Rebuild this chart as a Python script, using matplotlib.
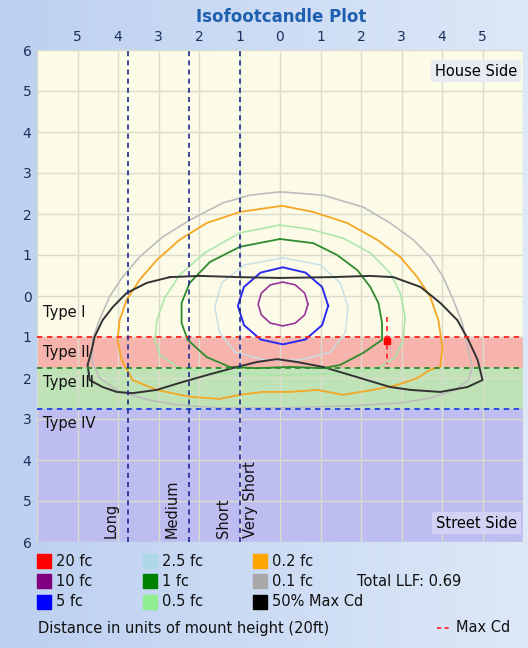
import numpy as np
import matplotlib
matplotlib.use("Agg")
import matplotlib.pyplot as plt
from matplotlib.patches import Rectangle

# distances in mount heights; y > 0 is street side, y < 0 is house side
x_ticks = [-5, -4, -3, -2, -1, 0, 1, 2, 3, 4, 5]
y_ticks = [-6, -5, -4, -3, -2, -1, 0, 1, 2, 3, 4, 5, 6]

# IES lateral type boundaries and longitudinal range boundaries
type_bounds = [1.0, 1.75, 2.75]
type_names = ["Type I", "Type II", "Type III", "Type IV"]
type_label_y = [0.41, 1.39, 2.12, 3.12]
range_bounds = [-1.0, -2.25, -3.75]
range_names = ["Very Short", "Short", "Medium", "Long"]
range_label_x = [-0.74, -1.39, -2.67, -4.16]

# isofootcandle contours (x, y)
gray_01 = [(0, -2.54), (1.06, -2.46), (2.05, -2.17), (2.72, -1.78), (3.29, -1.37), (3.71, -0.95),
           (4.03, -0.46), (4.28, 0.10), (4.50, 0.66), (4.63, 1.24), (4.75, 1.73), (4.65, 2.05),
           (4.33, 2.29), (3.71, 2.49), (2.97, 2.61), (1.73, 2.68), (0, 2.73), (-1.49, 2.73),
           (-2.48, 2.66), (-3.22, 2.54), (-3.96, 2.34), (-4.46, 2.0), (-4.65, 1.56), (-4.63, 1.07),
           (-4.46, 0.59), (-4.21, 0.02), (-3.89, -0.46), (-3.47, -0.95), (-2.90, -1.44),
           (-2.23, -1.85), (-1.41, -2.27), (-0.74, -2.46), (0, -2.54)]
orange_02 = [(0.05, -2.20), (0.82, -2.05), (1.66, -1.78), (2.40, -1.37), (2.97, -0.95), (3.39, -0.46),
             (3.71, 0.02), (3.91, 0.59), (4.01, 1.24), (3.96, 1.73), (3.71, 1.80), (3.39, 2.0),
             (2.90, 2.17), (2.30, 2.29), (1.56, 2.41), (0.92, 2.29), (0.25, 2.34), (-0.42, 2.34),
             (-0.99, 2.41), (-1.49, 2.51), (-2.23, 2.46), (-3.04, 2.29), (-3.64, 2.05), (-3.91, 1.56),
             (-4.01, 1.07), (-3.96, 0.59), (-3.79, 0.10), (-3.47, -0.39), (-3.04, -0.88),
             (-2.48, -1.37), (-1.81, -1.78), (-0.99, -2.05), (0.05, -2.20)]
lgreen_05 = [(0, -1.73), (0.74, -1.63), (1.56, -1.41), (2.23, -1.05), (2.72, -0.56), (2.97, -0.07),
             (3.09, 0.51), (3.04, 1.07), (2.85, 1.49), (2.48, 1.73), (1.73, 1.88), (0, 1.93),
             (-1.73, 1.88), (-2.48, 1.76), (-2.97, 1.44), (-3.09, 1.07), (-3.04, 0.59), (-2.85, 0.05),
             (-2.48, -0.51), (-1.86, -1.05), (-0.99, -1.54), (0, -1.73)]
green_1 = [(0, -1.39), (0.82, -1.29), (1.41, -1.0), (1.91, -0.63), (2.23, -0.22), (2.43, 0.17),
           (2.52, 0.66), (2.52, 1.07), (2.05, 1.39), (1.49, 1.68), (1.06, 1.76), (0.25, 1.73),
           (-0.57, 1.76), (-1.24, 1.73), (-1.81, 1.49), (-2.28, 1.07), (-2.43, 0.66), (-2.43, 0.17),
           (-2.23, -0.32), (-1.73, -0.83), (-0.99, -1.20), (0, -1.39)]
lblue_25 = [(0.07, -0.93), (0.99, -0.76), (1.49, -0.32), (1.68, 0.27), (1.61, 0.90), (1.24, 1.37),
            (0.50, 1.56), (-0.37, 1.56), (-1.11, 1.37), (-1.49, 0.90), (-1.61, 0.27), (-1.44, -0.32),
            (-0.87, -0.76), (0.07, -0.93)]
blue_5 = [(1.19, 0.24), (1.04, -0.22), (0.63, -0.57), (0.07, -0.70), (-0.48, -0.57), (-0.89, -0.22),
          (-1.04, 0.24), (-0.89, 0.71), (-0.48, 1.06), (0.07, 1.18), (0.63, 1.06), (1.04, 0.71),
          (1.19, 0.24)]
purple_10 = [(0.69, 0.20), (0.61, -0.07), (0.38, -0.27), (0.07, -0.34), (-0.24, -0.27), (-0.46, -0.07),
             (-0.54, 0.20), (-0.46, 0.46), (-0.24, 0.66), (0.07, 0.73), (0.38, 0.66), (0.61, 0.46),
             (0.69, 0.20)]
half_max_cd = [(-2.72, -0.46), (-1.98, -0.49), (-0.99, -0.46), (0, -0.44), (1.24, -0.46), (2.23, -0.49),
               (2.80, -0.46), (3.47, -0.22), (3.96, 0.17), (4.38, 0.59), (4.65, 1.07), (4.88, 1.56),
               (5.0, 2.05), (4.63, 2.22), (3.96, 2.34), (3.22, 2.29), (2.72, 2.22), (1.91, 1.98),
               (1.06, 1.73), (0.42, 1.61), (-0.07, 1.54), (-0.57, 1.61), (-1.06, 1.73), (-1.81, 1.93),
               (-2.48, 2.12), (-3.04, 2.29), (-3.64, 2.37), (-4.03, 2.34), (-4.38, 2.22), (-4.70, 2.05),
               (-4.75, 1.68), (-4.65, 1.32), (-4.58, 1.0), (-4.38, 0.59), (-4.13, 0.27), (-3.79, -0.07),
               (-3.29, -0.32), (-2.72, -0.46)]
max_cd_x = 2.65
max_cd_y = 1.1
max_cd_span = [0.5, 1.65]

contours = [(gray_01, "#bdbdbd", 1.2), (orange_02, "#f5a623", 1.3), (lgreen_05, "#a8e6a8", 1.1),
            (green_1, "#2e8b2e", 1.3), (lblue_25, "#c4dfe8", 1.0), (blue_5, "#2b2bf0", 1.4),
            (purple_10, "#993399", 1.2), (half_max_cd, "#333333", 1.4)]

legend_labels = ["20 fc", "10 fc", "5 fc", "2.5 fc", "1 fc", "0.5 fc", "0.2 fc", "0.1 fc", "50% Max Cd"]
legend_colors = ["#ff0000", "#800080", "#0000ff", "#add8e6", "#008000", "#90ee90",
                 "#ffa500", "#a9a9a9", "#000000"]
llf_text = "Total LLF: 0.69"

W, H = 528, 648
fig = plt.figure(figsize=(W / 100, H / 100), dpi=100)

# background gradient
bg = fig.add_axes([0, 0, 1, 1], zorder=-10)
grad = np.linspace(0, 1, 256).reshape(1, -1)
bg.imshow(grad, aspect="auto", extent=[0, 1, 0, 1],
          cmap=matplotlib.colors.LinearSegmentedColormap.from_list("bgc", ["#bcd0f0", "#dde8f8"]))
bg.axis("off")

ax = fig.add_axes([37 / W, 1 - 542 / H, 486 / W, 492 / H])
ax.set_facecolor("#fbfbe8")
ax.set_xlim(-6, 6)
ax.set_ylim(6, -6)

# type bands
ax.axhspan(type_bounds[0], type_bounds[1], color="#f6b4ac", zorder=0)
ax.axhspan(type_bounds[1], type_bounds[2], color="#bfe3b6", zorder=0)
ax.axhspan(type_bounds[2], 6, color="#bdbdf2", zorder=0)

# grid
for g in range(-6, 7):
    ax.axvline(g, color="#dcdccc", lw=1, zorder=1)
    ax.axhline(g, color="#dcdccc", lw=1, zorder=1)

for (pts, c, lw) in contours:
    p = np.array(pts)
    ax.plot(p[:, 0], p[:, 1], color=c, lw=lw, zorder=3, solid_joinstyle="round")

# boundary lines
for yb, c in zip(type_bounds, ["#ff2020", "#2a8a2a", "#2040e0"]):
    ax.axhline(yb, color=c, lw=1.3, ls=(0, (3, 2.5)), zorder=4)
for xb in range_bounds:
    ax.axvline(xb, color="#1a2a90", lw=1.2, ls=(0, (3, 2.5)), zorder=4)

# max cd
ax.plot([max_cd_x, max_cd_x], max_cd_span, color="#ff2020", lw=1.2, ls=(0, (3, 2.5)), zorder=5)
ax.plot([max_cd_x], [max_cd_y], marker="s", ms=5, color="#ff0000", zorder=6)

for name, yl in zip(type_names, type_label_y):
    ax.text(-5.84, yl, name, fontsize=10.5, va="center", ha="left", color="#111111", zorder=7)
for name, xl in zip(range_names, range_label_x):
    ax.text(xl, 5.9, name, fontsize=10.5, rotation=90, va="bottom", ha="center", color="#111111", zorder=7)

ax.text(5.85, -5.48, "House Side", fontsize=10.5, ha="right", va="center", zorder=7,
        bbox=dict(boxstyle="square,pad=0.25", fc="#e8ecf2", ec="none"))
ax.text(5.85, 5.54, "Street Side", fontsize=10.5, ha="right", va="center", zorder=7,
        bbox=dict(boxstyle="square,pad=0.25", fc="#d2d2f4", ec="none"))

ax.xaxis.tick_top()
ax.set_xticks(x_ticks)
ax.set_xticklabels([str(abs(v)) for v in x_ticks])
ax.set_yticks(y_ticks)
ax.set_yticklabels([str(abs(v)) for v in y_ticks])
ax.tick_params(length=0, labelsize=10, colors="#1b2f5b", pad=4)
for s in ax.spines.values():
    s.set_visible(False)

fig.text(281 / W, 1 - 17 / H, "Isofootcandle Plot", fontsize=12, fontweight="bold",
         color="#1f5faf", ha="center", va="center")

# legend in pixel coordinates
lg = fig.add_axes([0, 0, 1, 1], zorder=10)
lg.set_xlim(0, W)
lg.set_ylim(H, 0)
lg.axis("off")
col_x = [37, 143, 253]
row_y = [561, 581, 602]
for i, (lab, c) in enumerate(zip(legend_labels, legend_colors)):
    cx = col_x[i // 3]
    cy = row_y[i % 3]
    lg.add_patch(Rectangle((cx, cy - 7), 14, 14, color=c))
    lg.text(cx + 19, cy, lab, fontsize=10.5, va="center", ha="left", color="#111111")
lg.text(357, 581, llf_text, fontsize=10.5, va="center", ha="left", color="#111111")
lg.text(38, 628, "Distance in units of mount height (20ft)", fontsize=10.5, va="center", ha="left",
        color="#111111")
lg.plot([437, 452], [628, 628], color="#ff2020", lw=1.2, ls=(0, (2.5, 2)))
lg.text(456, 628, "Max Cd", fontsize=10.5, va="center", ha="left", color="#111111")

fig.savefig("out.png", dpi=100)
